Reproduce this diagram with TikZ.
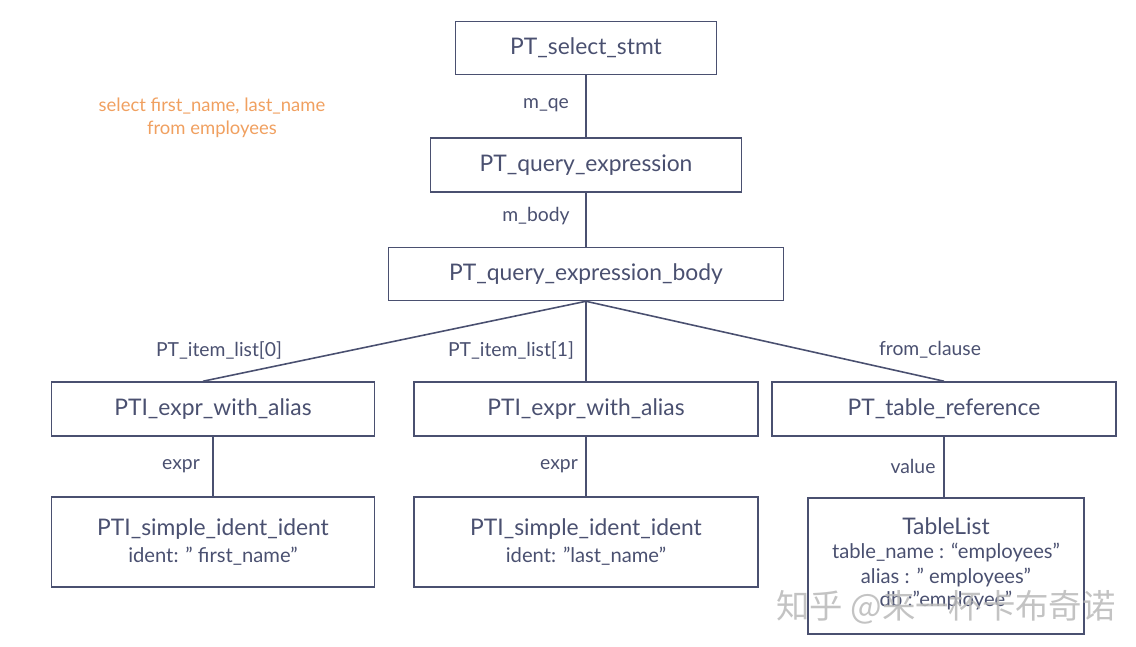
\documentclass[tikz,border=0pt]{standalone}
\usepackage{fontspec}
\setmainfont{Lato}
\newfontfamily\cjkfont{Noto Sans CJK SC}
\usepackage{tikz}
\definecolor{inkblue}{HTML}{4A5070}
\definecolor{sqlorange}{HTML}{F0A060}

\begin{document}
\begin{tikzpicture}[x=0.02cm, y=-0.02cm,
    box/.style={draw=inkblue, line width=0.9pt, text=inkblue, align=center,
      inner sep=0pt, font=\fontsize{13}{16}\selectfont},
    edgelabel/.style={text=inkblue, font=\fontsize{11}{13}\selectfont},
    link/.style={draw=inkblue, line width=0.9pt}]
  \useasboundingbox (0,0) rectangle (1136,646);
  % top chain
  \node[box, minimum width=5.22cm, minimum height=1.06cm] (select) at (586,48) {PT\_select\_stmt};
  \node[box, minimum width=6.22cm, minimum height=1.08cm] (qexpr) at (586,165) {PT\_query\_expression};
  \node[box, minimum width=7.90cm, minimum height=1.06cm] (qbody) at (586,274) {PT\_query\_expression\_body};
  % middle row
  \node[box, minimum width=6.46cm, minimum height=1.08cm] (aliasL) at (213,409) {PTI\_expr\_with\_alias};
  \node[box, minimum width=6.88cm, minimum height=1.08cm] (aliasM) at (586,409) {PTI\_expr\_with\_alias};
  \node[box, minimum width=6.88cm, minimum height=1.08cm] (tableref) at (944,409) {PT\_table\_reference};
  % bottom row
  \node[box, minimum width=6.46cm, minimum height=1.80cm] (identL) at (213,542)
    {PTI\_simple\_ident\_ident\\[-1pt]{\fontsize{11.5}{14}\selectfont ident: " first\_name"}};
  \node[box, minimum width=6.88cm, minimum height=1.80cm] (identM) at (586,542)
    {PTI\_simple\_ident\_ident\\[-1pt]{\fontsize{11.5}{14}\selectfont ident: "last\_name"}};
  \node[box, minimum width=5.52cm, minimum height=2.72cm] (tablelist) at (946,566) {};
  \node[text=inkblue, font=\fontsize{13}{16}\selectfont] (tlname) at (946,526) {TableList};
  \node[text=inkblue, font=\fontsize{11.5}{14}\selectfont] (tlrow1) at (946,553) {table\_name : “employees”};
  \node[text=inkblue, font=\fontsize{11.5}{14}\selectfont] (tlrow2) at (946,578) {alias : " employees"};
  \node[text=inkblue, font=\fontsize{11.5}{14}\selectfont] (tlrow3) at (946,601) {db :"employee"};
  % connectors
  \draw[link] (select.south) -- (qexpr.north);
  \draw[link] (qexpr.south) -- (qbody.north);
  \draw[link] (qbody.south) -- (aliasL.north -| 203,0);
  \draw[link] (qbody.south) -- (aliasM.north);
  \draw[link] (qbody.south) -- (tableref.north);
  \draw[link] (aliasL.south) -- (identL.north);
  \draw[link] (aliasM.south) -- (identM.north);
  \draw[link] (tableref.south) -- (tablelist.north -| tableref.south);
  % labels
  \node[edgelabel] (lqe) at (546,105) {m\_qe};
  \node[edgelabel] (lbody) at (536,216) {m\_body};
  \node[edgelabel] (litem0) at (219,350) {PT\_item\_list[0]};
  \node[edgelabel] (litem1) at (511,350) {PT\_item\_list[1]};
  \node[edgelabel] (lfrom) at (930,350) {from\_clause};
  \node[edgelabel] (lexprL) at (181,466) {expr};
  \node[edgelabel] (lexprM) at (559,466) {expr};
  \node[edgelabel] (lvalue) at (913,466) {value};
  % sql text
  \node[text=sqlorange, align=center, font=\fontsize{10.5}{13}\selectfont] (sql) at (212,118)
    {select first\_name, last\_name\\from employees};
  % watermark
  \node[text=gray!55, opacity=0.85, font=\cjkfont\fontsize{19}{22}\selectfont] (mark) at (946,607)
    {知乎 @来一杯卡布奇诺};
\end{tikzpicture}
\end{document}
